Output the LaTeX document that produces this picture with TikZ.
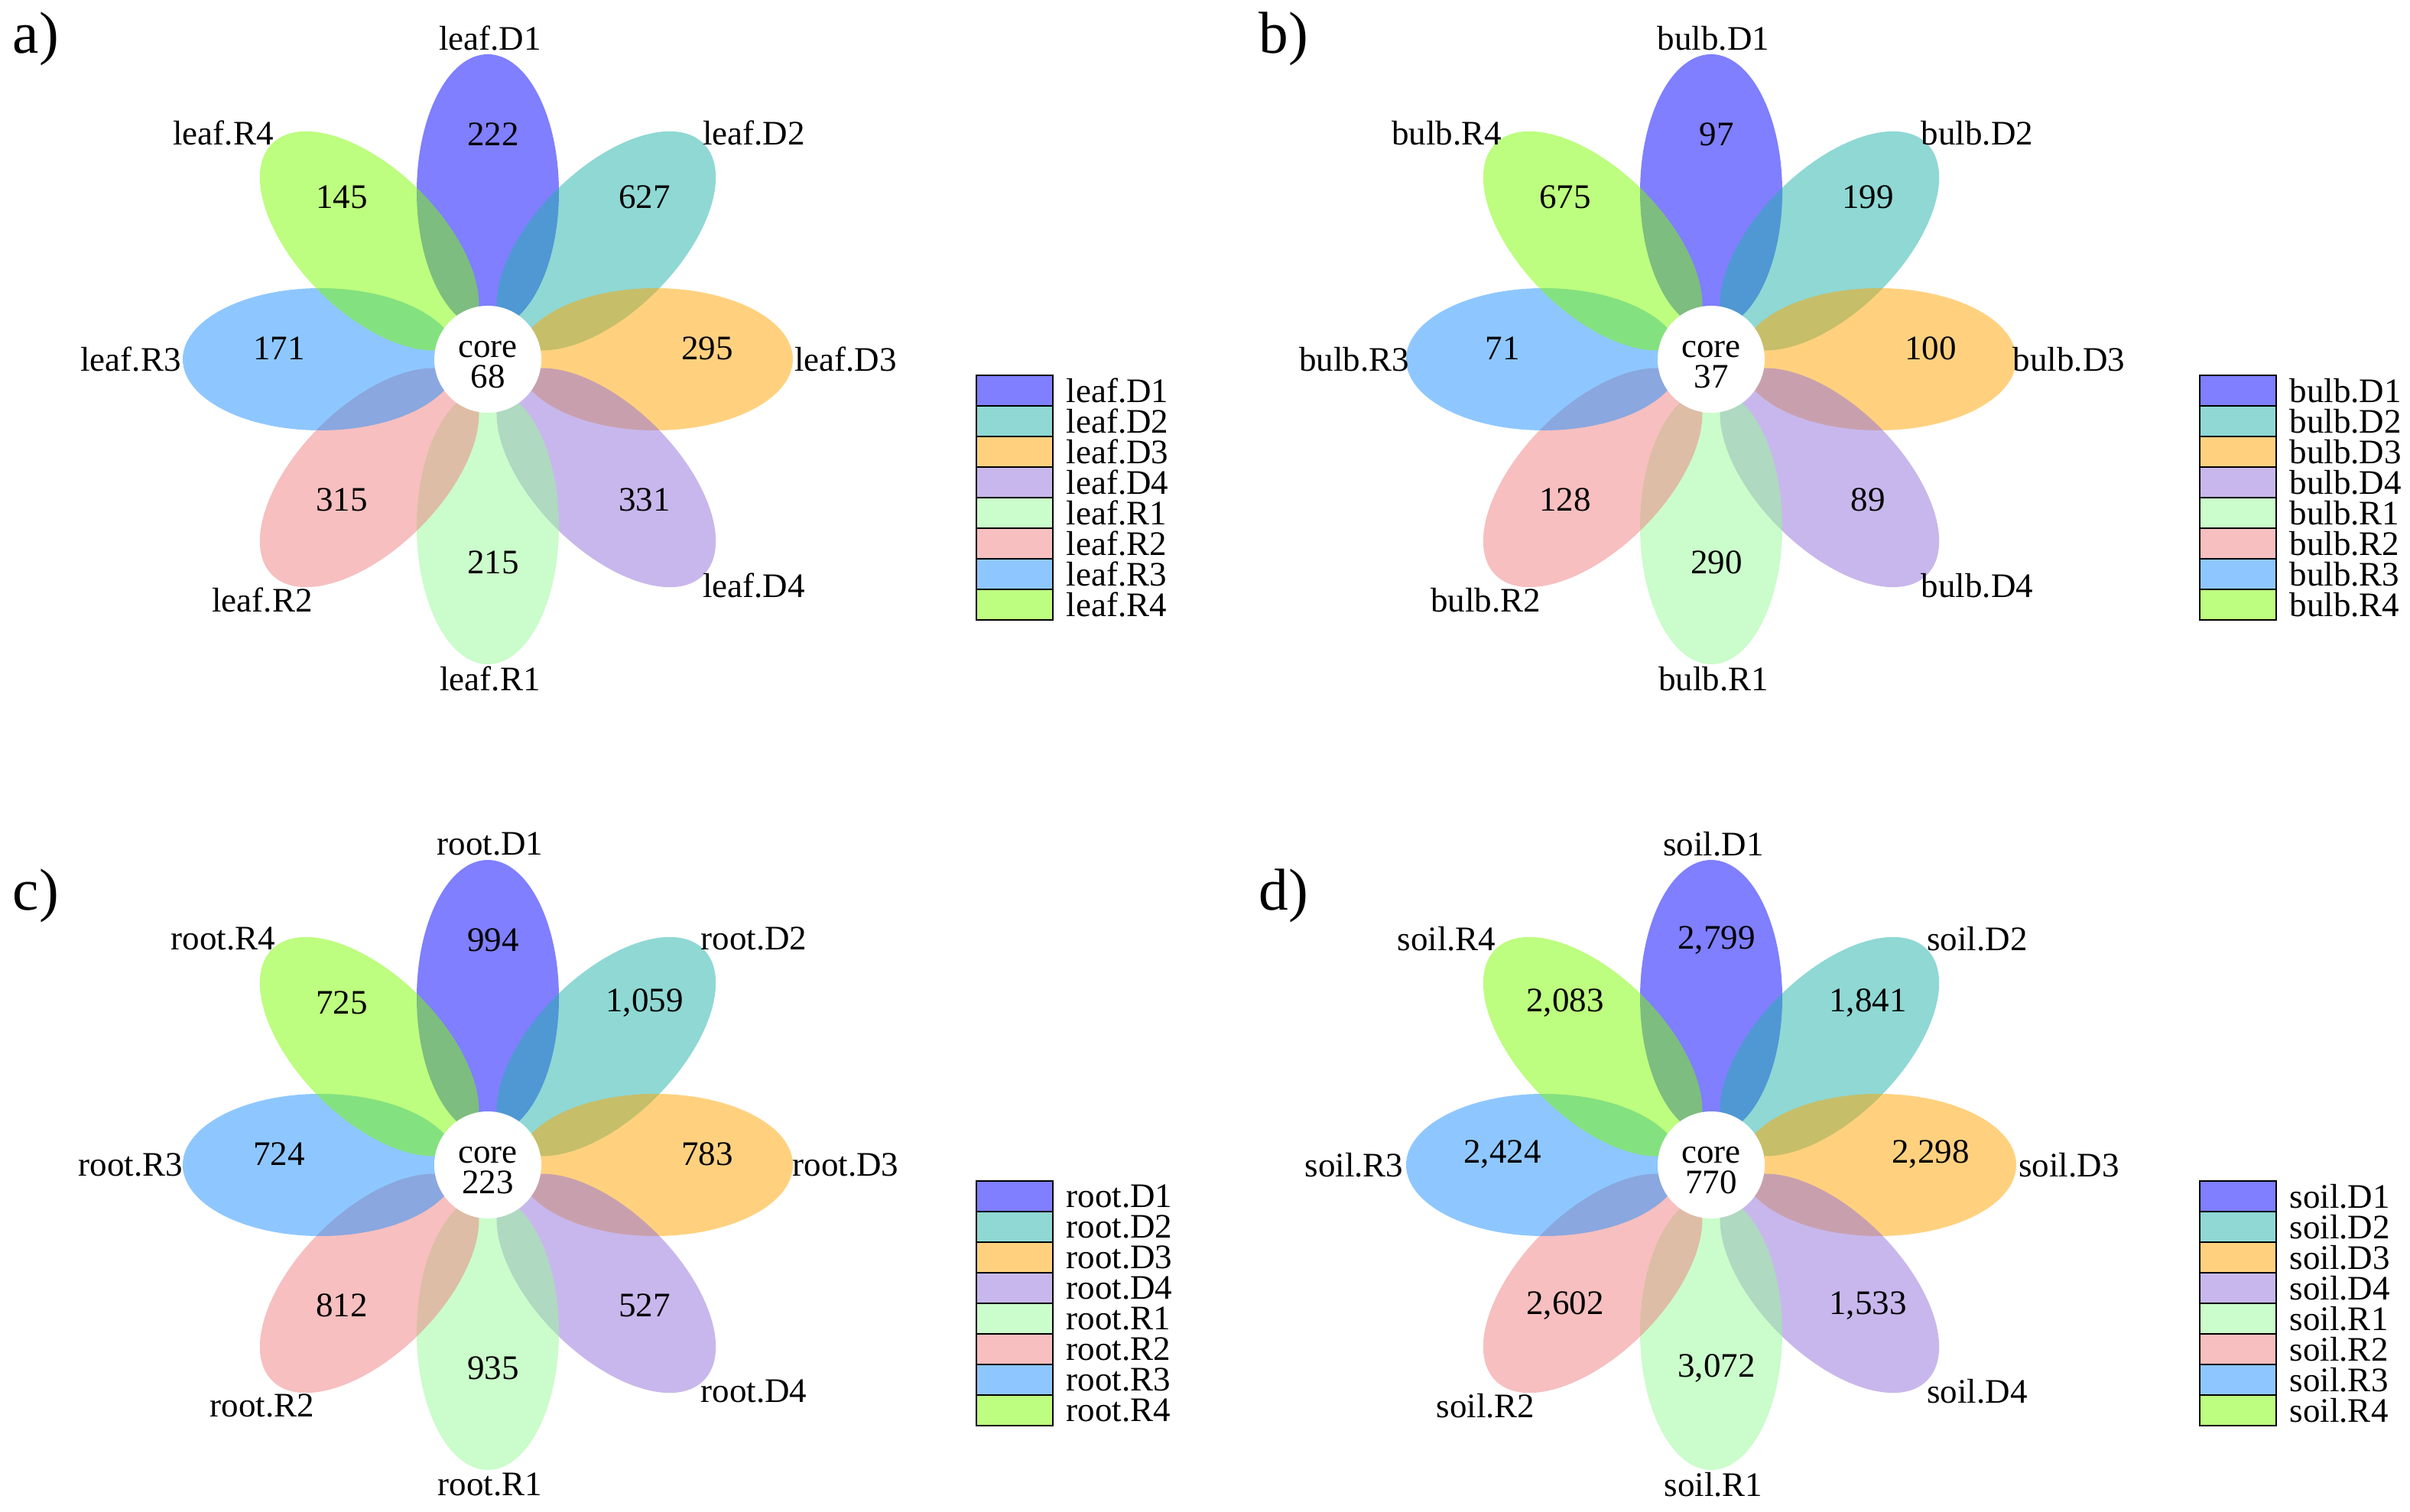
\documentclass[tikz,border=0pt]{standalone}
\usepackage{fontspec}
\setmainfont{Liberation Serif}
\usetikzlibrary{calc}

% petal colours (drawn at half opacity)
\definecolor{petD1}{RGB}{0,0,255}
\definecolor{petD2}{RGB}{32,178,170}
\definecolor{petD3}{RGB}{255,165,0}
\definecolor{petD4}{RGB}{147,112,219}
\definecolor{petR1}{RGB}{152,251,152}
\definecolor{petR2}{RGB}{240,128,128}
\definecolor{petR3}{RGB}{30,144,255}
\definecolor{petR4}{RGB}{124,252,0}

\tikzset{
  petal/.style={fill opacity=0.5},
  lbl/.style={inner sep=0pt, font=\fontsize{12.8}{11.4}\selectfont},
  corenode/.style={circle, fill=white, minimum size=1.40cm, inner sep=0pt},
  keybox/.style={draw=black, line width=0.8pt},
  paneltag/.style={inner sep=0pt, anchor=west, font=\fontsize{22}{22}\selectfont},
}

% flower plot: #1 panel, #2 centre, #3 sample, #4 core count, #5 petal counts
\newcommand{\flowerplot}[5]{%
  \begin{scope}[shift={#2}]
    % petals and their names
    \foreach \s/\ang/\lx/\ly in {D1/90/0.03/4.20, D2/45/3.48/2.96, D3/0/4.68/0, D4/-45/3.48/-2.96,
                                 R1/-90/0.03/-4.18, R2/-135/-2.95/-3.15, R3/180/-4.67/0, R4/135/-3.46/2.96} {
      \fill[petal, fill=pet\s, rotate=\ang] (2.19,0) ellipse[x radius=1.80, y radius=0.93];
      \node[lbl] (#1-\s-lab) at (\lx,\ly) {#3.\s};
    }
    % counts
    \foreach \s/\n [count=\i] in {#5} {
      \pgfmathsetmacro{\ang}{135-45*\i}
      \node[lbl] (#1-\s-num) at ({2.8*cos(\ang)+0.07},{2.8*sin(\ang)+0.14}) {\n};
    }
    \node[corenode] (#1-core) at (0,0) {};
    \node[lbl, align=center] (#1-coretxt) at ([yshift=-0.07cm]#1-core.center) {core\\#4};
    % legend
    \foreach \s [count=\i] in {D1,D2,D3,D4,R1,R2,R3,R4} {
      \filldraw[keybox, fill=pet\s, fill opacity=0.5] (6.39,{-0.21-0.4*(\i-1)}) rectangle (7.39,{-0.21-0.4*\i});
      \node[lbl, anchor=west] (#1-\s-key) at (7.56,{-0.41-0.4*(\i-1)}) {#3.\s};
    }
  \end{scope}
}

\begin{document}
\begin{tikzpicture}
  \fill[white] (0,0) rectangle (31.52,19.77);
  \useasboundingbox (0,0) rectangle (31.52,19.77);

  % panels
  \flowerplot{a}{(6.38,15.07)}{leaf}{68}{D1/222, D2/627, D3/295, D4/331, R1/215, R2/315, R3/171, R4/145}
  \flowerplot{b}{(22.38,15.07)}{bulb}{37}{D1/97, D2/199, D3/100, D4/89, R1/290, R2/128, R3/71, R4/675}
  \flowerplot{c}{(6.38,4.53)}{root}{223}{D1/994, D2/{1,059}, D3/783, D4/527, R1/935, R2/812, R3/724, R4/725}
  \flowerplot{d}{(22.38,4.53)}{soil}{770}{D1/{2,799}, D2/{1,841}, D3/{2,298}, D4/{1,533}, R1/{3,072}, R2/{2,602}, R3/{2,424}, R4/{2,083}}

  % panel letters
  \node[paneltag] (tag-a) at (0.16,19.26) {a)};
  \node[paneltag] (tag-b) at (16.46,19.26) {b)};
  \node[paneltag] (tag-c) at (0.16,8.05) {c)};
  \node[paneltag] (tag-d) at (16.46,8.05) {d)};
\end{tikzpicture}
\end{document}
